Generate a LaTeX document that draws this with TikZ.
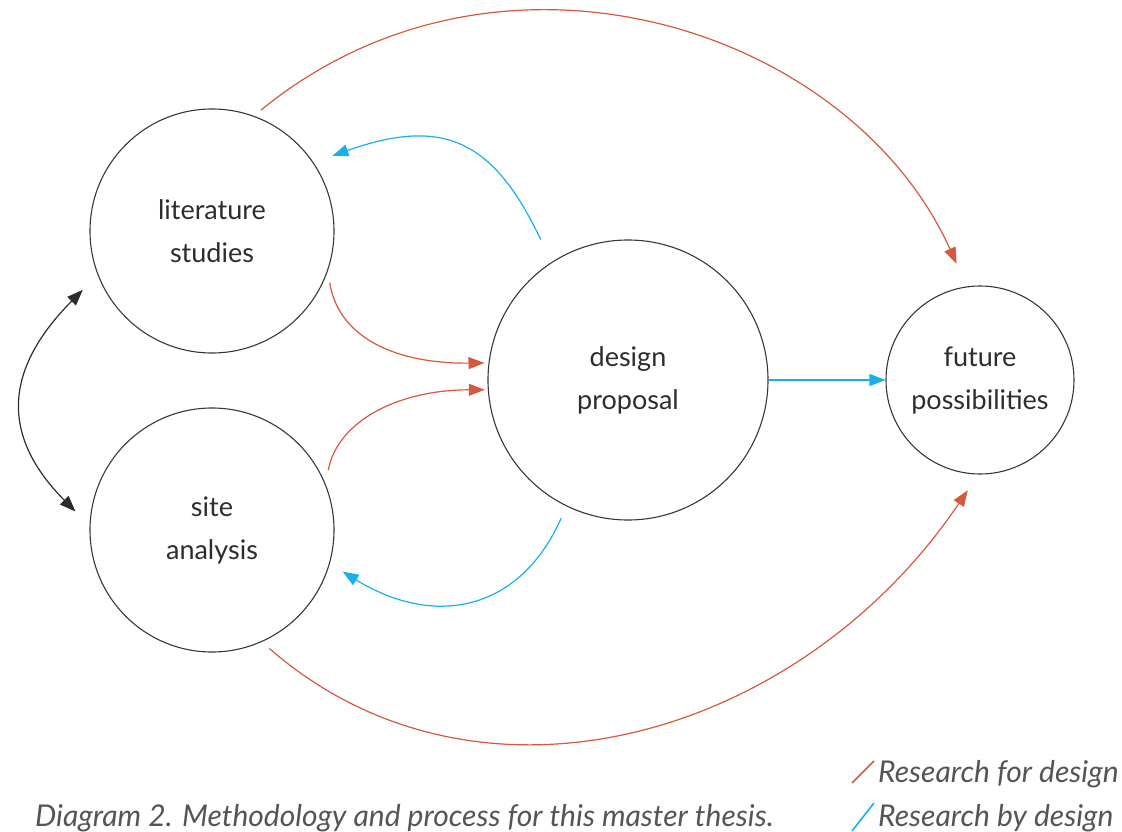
\documentclass[tikz,border=0pt]{standalone}
\usepackage{fontspec}
\setmainfont{Lato}
\usetikzlibrary{arrows.meta,positioning,calc}
\definecolor{rfdred}{RGB}{214,88,62}
\definecolor{rbdblue}{RGB}{24,176,235}
\definecolor{ringgray}{RGB}{55,55,55}
\definecolor{txtgray}{RGB}{45,45,45}
\definecolor{capgray}{RGB}{85,85,85}

\begin{document}
\begin{tikzpicture}[x=1pt,y=-1pt]

    \tikzstyle{phase} = [draw=ringgray, circle, line width=1.1pt, inner sep=0pt,
        text=txtgray, align=center, font=\fontsize{27}{43}\selectfont]

    \tikzstyle{rfd} = [draw=rfdred, line width=1.2pt, -{Triangle[length=16pt,width=12pt]}]

    \tikzstyle{rbd} = [draw=rbdblue, line width=1.2pt, -{Triangle[length=16pt,width=12pt]}]

    \tikzstyle{link} = [draw=ringgray!80!black, line width=1.2pt,
        {Triangle[length=16pt,width=12pt]}-{Triangle[length=16pt,width=12pt]}]

    \tikzstyle{note} = [text=capgray, font=\fontsize{30}{32}\selectfont\itshape,
        anchor=base west, inner sep=0pt]

    \useasboundingbox (0,0) rectangle (1122,832);

    % Inputs
    \node [phase, minimum size=244pt] (lit) at (212,231) {literature\\studies};
    \node [phase, minimum size=244pt, below of=lit, node distance=299pt] (site) {site\\analysis};

    % Design and outcome
    \node [phase, minimum size=280pt] (design) at (628,380) {design\\proposal};
    \node [phase, minimum size=188pt, right of=design, node distance=352pt] (future) {future\\possibilities};

    % Research for design
    \draw [rfd, shorten <=9pt, shorten >=25pt] (lit.70) .. controls +(246,-201) and +(-117,-259) .. (future.98);
    \draw [rfd, shorten <=10pt, shorten >=19pt] (site.-66) .. controls +(217,189) and +(-178,264) .. (future.-91);
    \draw [rfd, shorten <=12pt, shorten >=4pt] (lit.-19) .. controls +(11,69) and +(-89,1) .. (design.173);
    \draw [rfd, shorten <=14pt, shorten >=3pt] (site.22) .. controls +(12,-64) and +(-88,0) .. (design.184);

    % Research by design
    \draw [rbd, shorten <=25pt, shorten >=20pt] (design.123) .. controls +(-58,-122) and +(130,-46) .. (lit.34);
    \draw [rbd, shorten <=13pt, shorten >=15pt] (design.-116) .. controls +(-46,104) and +(106,65) .. (site.-16);
    \draw [rbd] (design) -- (future);

    % Between the inputs
    \draw [link, shorten <=21pt, shorten >=20pt] (lit.201) .. controls +(-92,93) and +(-91,-92) .. (site.178);

    % Caption and legend
    \node [note] (caption) at (35,826) {Diagram 2. Methodology and process for this master thesis.};
    \node [note] (legfor) at (878,782) {Research for design};
    \node [note] (legby) at (878,826) {Research by design};
    \draw [draw=rfdred, line width=1.6pt] ($(legfor.base west)+(-26,1)$) -- ++(22,-22);
    \draw [draw=rbdblue, line width=1.6pt] ($(legby.base west)+(-26,5)$) -- ++(22,-28);

\end{tikzpicture}
\end{document}
